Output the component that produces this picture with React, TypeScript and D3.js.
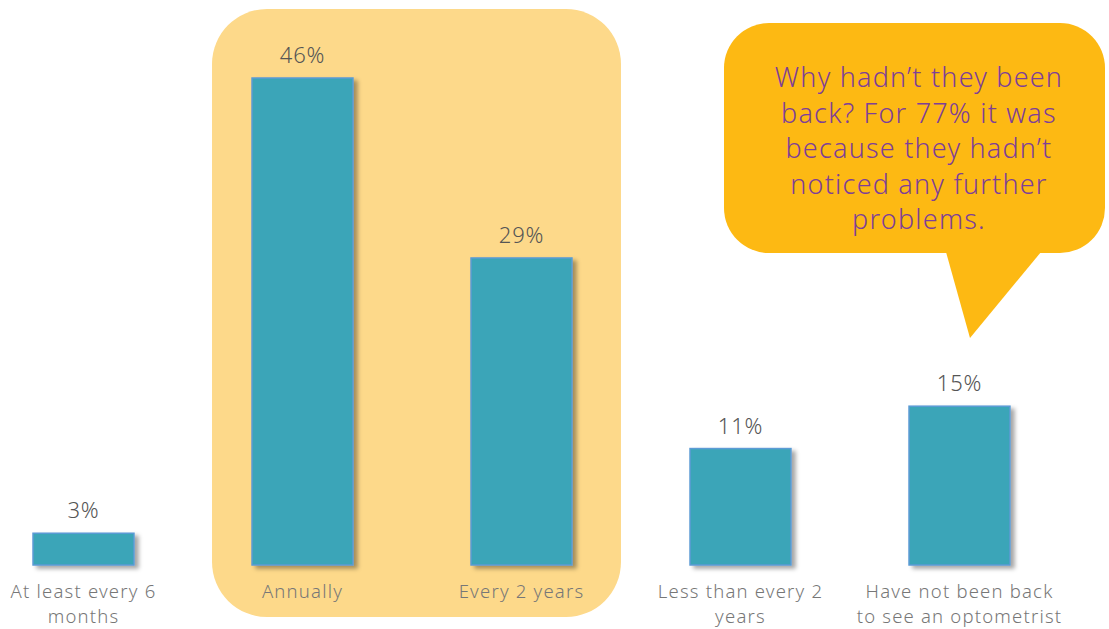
import React from "react";
import * as d3 from "d3";

const categories = [
  ["At least every 6", "months"],
  ["Annually"],
  ["Every 2 years"],
  ["Less than every 2", "years"],
  ["Have not been back", "to see an optometrist"],
];
const values = [3, 46, 29, 11, 15];
const calloutLines = [
  "Why hadn\u2019t they been",
  "back? For 77% it was",
  "because they  hadn\u2019t",
  "noticed any further",
  "problems.",
];

const W = 1109;
const H = 629;
const baseline = 565;
const FONT = "'Noto Sans', 'Open Sans', sans-serif";

export default function App() {
  const keys = categories.map((c) => c.join(" "));
  const x = d3
    .scaleBand<string>()
    .domain(keys)
    .range([-26, 1069])
    .paddingInner(0.539)
    .paddingOuter(0.2695);
  const y = d3.scaleLinear().domain([0, 46]).range([baseline, 78]);

  const hx0 = (x(keys[1]) as number) - 40;
  const hx1 = (x(keys[2]) as number) + x.bandwidth() + 49;

  return (
    <div style={{ position: "absolute", left: 0, top: 0 }}>
      <svg width={W} height={H} style={{ display: "block", background: "#fff" }}>
        <defs>
          <filter id="sh" x="-20%" y="-20%" width="150%" height="150%">
            <feDropShadow dx="4" dy="3" stdDeviation="2" floodColor="#000" floodOpacity="0.35" />
          </filter>
        </defs>
        <rect x={hx0} y={9} width={hx1 - hx0} height={608} rx={55} fill="#FDD98A" />

        {values.map((v, i) => {
          const bx = x(keys[i]) as number;
          return (
            <g key={i}>
              <rect
                x={bx}
                y={y(v)}
                width={x.bandwidth()}
                height={baseline - y(v)}
                fill="#3AA5B8"
                stroke="#5B9BD5"
                strokeWidth={1.5}
                filter="url(#sh)"
              />
              <text
                x={bx + x.bandwidth() / 2}
                y={y(v) - 15}
                textAnchor="middle"
                fontFamily={FONT}
                fontWeight={300}
                fontSize={22}
                letterSpacing={0.8}
                fill="#555"
              >
                {v}%
              </text>
              {categories[i].map((line, j) => (
                <text
                  key={j}
                  x={bx + x.bandwidth() / 2}
                  y={598 + j * 25}
                  textAnchor="middle"
                  fontFamily={FONT}
                  fontWeight={300}
                  fontSize={18.5}
                  letterSpacing={1.2}
                  fill="#777"
                >
                  {line}
                </text>
              ))}
            </g>
          );
        })}

        <rect x={724} y={23} width={381} height={230} rx={45} fill="#FDB913" />
        <path d="M946,252 L970,338 L1041,252 Z" fill="#FDB913" />
        {calloutLines.map((l, i) => (
          <text
            key={i}
            x={919}
            y={87 + i * 35.5}
            textAnchor="middle"
            fontFamily={FONT}
            fontWeight={300}
            fontSize={27}
            letterSpacing={1.2}
            fill="#7E3F98"
          >
            {l}
          </text>
        ))}
      </svg>
    </div>
  );
}
